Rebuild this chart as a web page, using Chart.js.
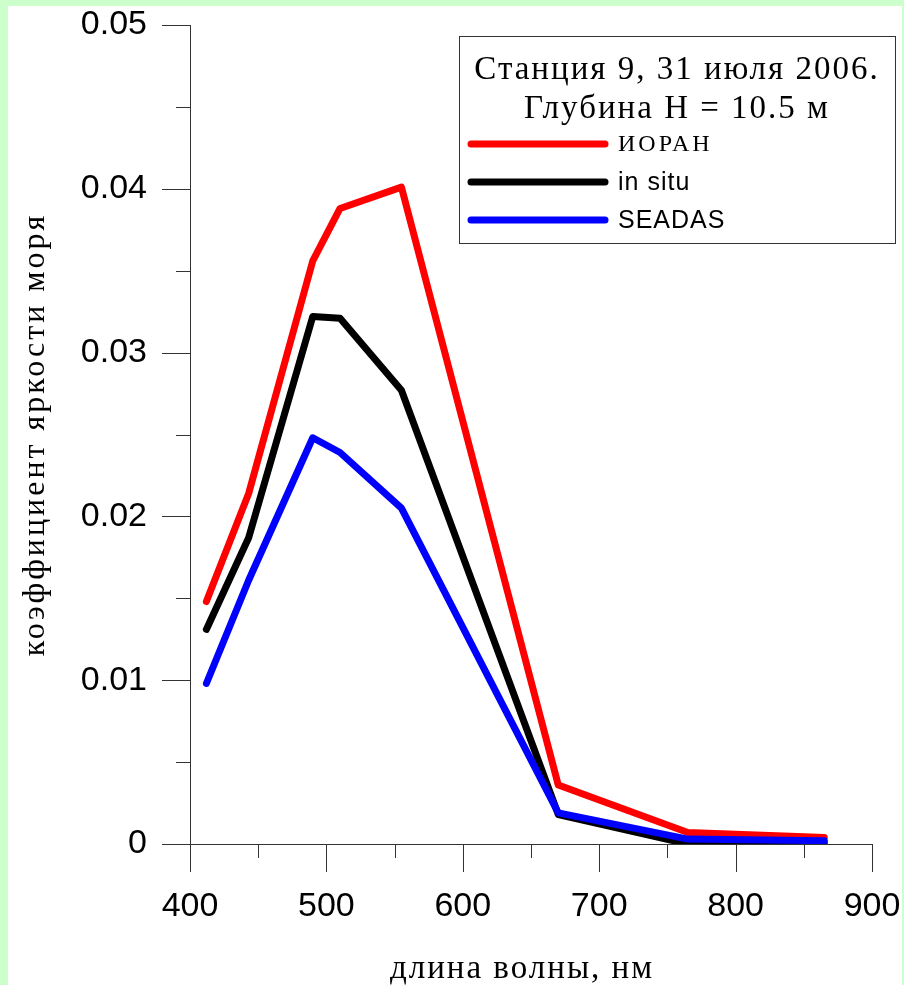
<!DOCTYPE html>
<html>
<head>
<meta charset="utf-8">
<script src="https://cdn.jsdelivr.net/npm/chart.js@4.4.1/dist/chart.umd.min.js"></script>
<style>
    html, body { margin: 0; padding: 0; background: #ccffcc; }
</style>
</head>
<body>
<canvas id="chart" width="904" height="985"></canvas>
<script>
// wavelengths, nm
const wavelengths = [412, 443, 490, 510, 555, 670, 765, 865]

// sea brightness coefficient per series
const ioranValues = [0.0148, 0.0214, 0.0356, 0.0388, 0.0401, 0.0036, 0.0007, 0.0004]
const inSituValues = [0.0131, 0.0187, 0.0322, 0.0321, 0.0277, 0.0018, 0.0, 0.0001]
const seadasValues = [0.0098, 0.0161, 0.0248, 0.0239, 0.0205, 0.0019, 0.0003, 0.0002]

const seriesNames = ["ИОРАН", "in situ", "SEADAS"]

const xMajorTicks = [400, 500, 600, 700, 800, 900]
const xMinorTicks = [450, 550, 650, 750, 850]
const yMajorTicks = [0, 0.01, 0.02, 0.03, 0.04, 0.05]
const yMinorTicks = [0.005, 0.015, 0.025, 0.035, 0.045]
const yTickLabels = ["0", "0.01", "0.02", "0.03", "0.04", "0.05"]

const legendTitle = ["Станция 9, 31 июля 2006.", "Глубина H = 10.5 м"]
const xTitle = "длина волны, нм"
const yTitle = "коэффициент яркости моря"

const axisColor = "#333333"
const serif = "'Liberation Serif', 'Times New Roman', serif"
const sans = "'Liberation Sans', Arial, sans-serif"

const toPoints = (values) => values.map((v, i) => ({ x: wavelengths[i], y: v }))

const lineStyle = {
    borderWidth: 7,
    pointRadius: 0,
    tension: 0,
    fill: false,
    borderCapStyle: "round",
    borderJoinStyle: "round",
}

// scales add tick padding around the plot; the layout padding handles that instead
const dropScalePadding = (scale) => {
    scale.paddingTop = 0
    scale.paddingBottom = 0
    scale.paddingLeft = 0
    scale.paddingRight = 0
}

// green page edge + white sheet behind everything
const sheetPlugin = {
    id: "sheet",
    beforeDraw: (chart) => {
        const { ctx, width, height } = chart
        ctx.save()
        ctx.fillStyle = "#ccffcc"
        ctx.fillRect(0, 0, width, height)
        ctx.fillStyle = "#ffffff"
        ctx.fillRect(8, 6, 894, height - 6)
        ctx.restore()
    },
}

// outward tick marks, long for major and short for minor
const ticksPlugin = {
    id: "outerTicks",
    afterDraw: (chart) => {
        const { ctx, chartArea, scales } = chart
        const { x, y } = scales
        ctx.save()
        ctx.strokeStyle = axisColor
        ctx.lineWidth = 1
        ctx.beginPath()
        const yTick = (v, len) => {
            const py = Math.round(y.getPixelForValue(v)) + 0.5
            ctx.moveTo(chartArea.left - len, py)
            ctx.lineTo(chartArea.left, py)
        }
        const xTick = (v, len) => {
            const px = Math.round(x.getPixelForValue(v)) + 0.5
            ctx.moveTo(px, chartArea.bottom)
            ctx.lineTo(px, chartArea.bottom + len)
        }
        yMajorTicks.forEach((v) => yTick(v, 28))
        yMinorTicks.forEach((v) => yTick(v, 14))
        xMajorTicks.forEach((v) => xTick(v, 28))
        xMinorTicks.forEach((v) => xTick(v, 14))
        ctx.stroke()
        ctx.restore()
    },
}

// axis captions, spaced out a little
const axisTitlesPlugin = {
    id: "axisTitles",
    afterDraw: (chart) => {
        const { ctx, chartArea } = chart
        ctx.save()
        ctx.fillStyle = "#000000"
        ctx.textAlign = "center"
        ctx.textBaseline = "alphabetic"

        ctx.font = `33px ${serif}`
        ctx.letterSpacing = "2px"
        ctx.fillText(xTitle, 522, 978)

        ctx.translate(44, (chartArea.top + chartArea.bottom) / 2)
        ctx.rotate(-Math.PI / 2)
        ctx.font = `32px ${serif}`
        ctx.letterSpacing = "3px"
        ctx.fillText(yTitle, 0, 0)
        ctx.restore()
    },
}

// framed legend with a two-line caption
const legendBoxPlugin = {
    id: "legendBox",
    afterDraw: (chart) => {
        const { ctx } = chart
        const box = { left: 459, top: 36, width: 436, height: 207 }
        ctx.save()
        ctx.fillStyle = "#ffffff"
        ctx.fillRect(box.left, box.top, box.width, box.height)
        ctx.strokeStyle = axisColor
        ctx.lineWidth = 1
        ctx.strokeRect(box.left + 0.5, box.top + 0.5, box.width, box.height)

        const cx = box.left + box.width / 2
        ctx.fillStyle = "#000000"
        ctx.textAlign = "center"
        ctx.textBaseline = "middle"
        ctx.font = `33px ${serif}`
        ctx.letterSpacing = "2px"
        ctx.fillText(legendTitle[0], cx, 70)
        ctx.fillText(legendTitle[1], cx, 109)

        const rows = [144, 182, 220]
        const fonts = [`24px ${serif}`, `25px ${sans}`, `25px ${sans}`]
        const spacing = ["3px", "1px", "1px"]
        chart.data.datasets.forEach((ds, i) => {
            ctx.strokeStyle = ds.borderColor
            ctx.lineWidth = 7
            ctx.lineCap = "round"
            ctx.beginPath()
            ctx.moveTo(471, rows[i])
            ctx.lineTo(605, rows[i])
            ctx.stroke()
            ctx.fillStyle = "#000000"
            ctx.textAlign = "left"
            ctx.font = fonts[i]
            ctx.letterSpacing = spacing[i]
            ctx.fillText(ds.label, 618, rows[i] + 1)
        })
        ctx.restore()
    },
}

const chart = new Chart(document.getElementById("chart"), {
    type: "line",
    data: {
        datasets: [
            { ...lineStyle, label: seriesNames[0], data: toPoints(ioranValues), borderColor: "#ff0000", order: 2 },
            { ...lineStyle, label: seriesNames[1], data: toPoints(inSituValues), borderColor: "#000000", order: 1 },
            { ...lineStyle, label: seriesNames[2], data: toPoints(seadasValues), borderColor: "#0000ff", order: 0 },
        ],
    },
    plugins: [sheetPlugin, ticksPlugin, axisTitlesPlugin, legendBoxPlugin],
    options: {
        responsive: false,
        animation: false,
        layout: {
            padding: { left: 0, top: 25, right: 32, bottom: 0 },
        },
        plugins: {
            legend: { display: false },
            tooltip: { enabled: false },
        },
        scales: {
            x: {
                type: "linear",
                min: 400,
                max: 900,
                grid: { display: false, drawTicks: false },
                border: { display: true, color: axisColor, width: 1 },
                afterBuildTicks: (scale) => {
                    scale.ticks = xMajorTicks.map((v) => ({ value: v }))
                },
                afterFit: (scale) => {
                    scale.height = 141
                    dropScalePadding(scale)
                },
                ticks: {
                    color: "#000000",
                    padding: 42,
                    maxRotation: 0,
                    font: { family: sans, size: 34 },
                },
            },
            y: {
                type: "linear",
                min: 0,
                max: 0.05,
                grid: { display: false, drawTicks: false },
                border: { display: true, color: axisColor, width: 1 },
                afterBuildTicks: (scale) => {
                    scale.ticks = yMajorTicks.map((v) => ({ value: v }))
                },
                afterFit: (scale) => {
                    scale.width = 190
                    dropScalePadding(scale)
                },
                ticks: {
                    color: "#000000",
                    padding: 43,
                    font: { family: sans, size: 34 },
                    callback: (value, index) => yTickLabels[index],
                },
            },
        },
    },
})
</script>
</body>
</html>
